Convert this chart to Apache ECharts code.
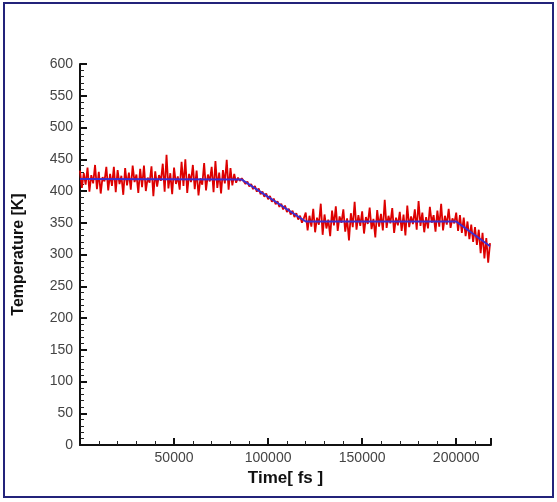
<!DOCTYPE html>
<html>
<head>
<meta charset="utf-8">
<script src="https://cdn.jsdelivr.net/npm/echarts@6/dist/echarts.min.js"></script>
<style>
  html, body { margin: 0; padding: 0; background: #fff; }
  #chart { width: 557px; height: 502px; }
</style>
</head>
<body>
<div id="chart"></div>
<script>
// sampled temperature, one value every 1000 fs starting at 0
const timeStep = 1000
const tempHold1 = [
  432,405,428,410,437,399,425,412,441,403,
  430,396,422,415,438,401,427,408,438,398,
  433,411,424,394,436,409,429,402,440,414,
  426,397,435,406,440,400,421,413,439,392,
  431,407,425,416,443,399,457,404,428,395,
  437,411,423,402,446,408,450,397,427,414,
  441,403,432,393,420,410,444,401,426,415,
  438,398,447,405,429,396,433,412,449,402,
  436,409,427,413,421,416,420
]
const tempCool1 = [
  419,411,415,407,411,403,408,399,404,395,
  399,391,396,387,392,383,388,379,384,375,
  380,371,377,367,372,363,369,359,365,355,
  361,350,357
]
const tempHold2 = [
  366,338,361,344,372,335,358,347,380,331,
  363,341,355,329,369,346,376,337,360,350,
  371,336,357,322,365,343,383,339,362,345,
  368,333,359,348,374,340,356,327,370,344,
  364,338,386,342,361,349,373,334,358,346,
  367,337,363,330,377,343,360,348,371,339,
  384,345,366,335,359,341,375,350,362,336,
  369,344,380,338,361,347,372,342,357,349
]
const tempCool2 = [
  366,337,362,334,358,329,352,324,347,320,
  343,315,339,302,334,294,326,287,318
]
// target (thermostat) temperature profile
const targetTime = [0, 86000, 120000, 200000, 218000]
const targetTemp = [419, 418, 352, 352, 313]

const rawTemp = tempHold1.concat(tempCool1, tempHold2, tempCool2)
const rawData = rawTemp.map((v, i) => [i * timeStep, v])
const targetData = targetTime.map((t, i) => [t, targetTemp[i]])

const myChart = echarts.init(document.getElementById('chart'))
const option = {
  animation: false,
  backgroundColor: '#fff',
  grid: {
    left: 80,
    right: 66,
    top: 64,
    bottom: 57
  },
  graphic: [
    {
      type: 'rect',
      shape: {x: 4, y: 3, width: 549, height: 494},
      style: {fill: 'none', stroke: '#23237a', lineWidth: 2}
    }
  ],
  xAxis: {
    type: 'value',
    min: 0,
    max: 218500,
    interval: 50000,
    name: 'Time[ fs ]',
    nameLocation: 'middle',
    nameGap: 15,
    nameTextStyle: {
      fontFamily: 'Liberation Sans',
      fontWeight: 'bold',
      fontSize: 17,
      color: '#111',
      verticalAlign: 'top'
    },
    axisLine: {lineStyle: {color: '#111', width: 2}},
    axisTick: {inside: true, length: 7, lineStyle: {color: '#111', width: 2}},
    minorTick: {show: true, splitNumber: 5, length: 4, lineStyle: {color: '#222', width: 1}},
    splitLine: {show: false},
    axisLabel: {
      fontFamily: 'Liberation Sans',
      fontSize: 14,
      color: '#444',
      margin: 6,
      showMaxLabel: false,
      formatter: v => (v > 0 && v % 50000 === 0) ? String(v) : ''
    }
  },
  yAxis: {
    type: 'value',
    min: 0,
    max: 600,
    interval: 50,
    name: 'Temperature [K]',
    nameLocation: 'middle',
    nameGap: 53,
    nameTextStyle: {
      fontFamily: 'Liberation Sans',
      fontWeight: 'bold',
      fontSize: 16,
      color: '#111'
    },
    axisLine: {show: true, lineStyle: {color: '#111', width: 2}},
    axisTick: {show: true, inside: true, length: 7, lineStyle: {color: '#111', width: 2}},
    minorTick: {show: true, splitNumber: 5, length: 4, lineStyle: {color: '#222', width: 1}},
    splitLine: {show: false},
    axisLabel: {
      fontFamily: 'Liberation Sans',
      fontSize: 14,
      color: '#444',
      margin: 7
    }
  },
  series: [
    {
      name: 'raw',
      type: 'line',
      data: rawData,
      showSymbol: false,
      lineStyle: {color: '#dd0000', width: 1.8},
      z: 2
    },
    {
      name: 'target',
      type: 'line',
      data: targetData,
      showSymbol: false,
      lineStyle: {color: '#3a2fd0', width: 2},
      z: 3
    }
  ]
}
myChart.setOption(option)
</script>
</body>
</html>
